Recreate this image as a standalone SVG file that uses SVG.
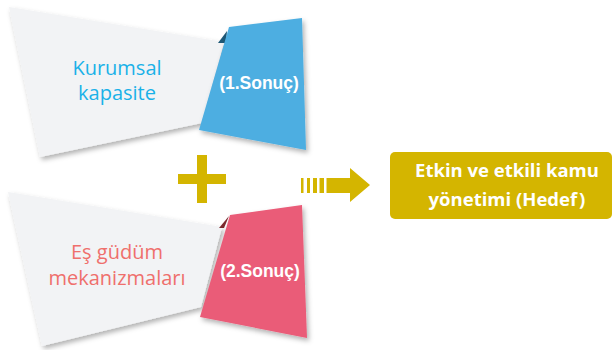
<svg xmlns="http://www.w3.org/2000/svg" width="616" height="350" viewBox="0 0 616 350">
<defs>
<filter id="sh" x="-20%" y="-20%" width="140%" height="140%">
<feDropShadow dx="2" dy="3" stdDeviation="2.5" flood-color="#000" flood-opacity="0.3"/>
</filter>
<style>
.grey{fill:#f2f3f5;filter:url(#sh)}
.lbl{font-family:"Open Sans","Noto Sans",sans-serif;font-size:20px;text-anchor:middle}
.res{font-family:"Liberation Sans",Arial,sans-serif;font-size:17.5px;font-weight:bold;fill:#fff;text-anchor:middle}
.gold{fill:#d4b500}
.goal{font-family:"Open Sans","Noto Sans",sans-serif;font-size:18.5px;font-weight:bold;fill:#fff;text-anchor:middle}
</style>
</defs>
<rect width="616" height="350" fill="#fff"/>
<g id="kurumsal">
<polygon class="grey" points="9,7 224,42 202,123 40,157"/>
<text class="lbl" fill="#1ab1e8" x="117" y="75">Kurumsal</text>
<text class="lbl" fill="#1ab1e8" x="117" y="100">kapasite</text>
</g>
<g id="sonuc1">
<polygon points="227,31 218,43 226,43" fill="#1d5877"/>
<polygon points="229,27 302,18 306,150 199,130" fill="#4eaee1" filter="url(#sh)"/>
<text class="res" x="259" y="89">(1.Sonuç)</text>
</g>
<g id="esgudum">
<polygon class="grey" points="8,192 222,227 201,307 42,346"/>
<text class="lbl" fill="#ef6f6c" x="117" y="259">Eş güdüm</text>
<text class="lbl" fill="#ef6f6c" x="117" y="285">mekanizmaları</text>
</g>
<g id="sonuc2">
<polygon points="229,216 219,228 224,228" fill="#7d2a2e"/>
<polygon points="230,215 302,205 307,338 200,317" fill="#ea5b78" filter="url(#sh)"/>
<text class="res" x="260" y="277">(2.Sonuç)</text>
</g>
<g id="plus">
<rect class="gold" x="178" y="174" width="48" height="10"/>
<rect class="gold" x="197" y="155" width="10" height="48"/>
</g>
<g id="connectors">
<rect class="gold" x="301" y="178" width="2.5" height="15"/>
<rect class="gold" x="307" y="178" width="3" height="15"/>
<rect class="gold" x="313" y="178" width="4" height="15"/>
<rect class="gold" x="319.5" y="178" width="4.5" height="15"/>
<polygon class="gold" points="326.5,178 350,178 350,168 370,185 350,202 350,193 326.5,193"/>
</g>
<g id="hedef">
<rect class="gold" x="390" y="152" width="222" height="67" rx="5"/>
<text class="goal" x="507" y="177">Etkin ve etkili kamu</text>
<text class="goal" x="507" y="206">yönetimi (Hedef<tspan dx="2">)</tspan></text>
</g>
</svg>
